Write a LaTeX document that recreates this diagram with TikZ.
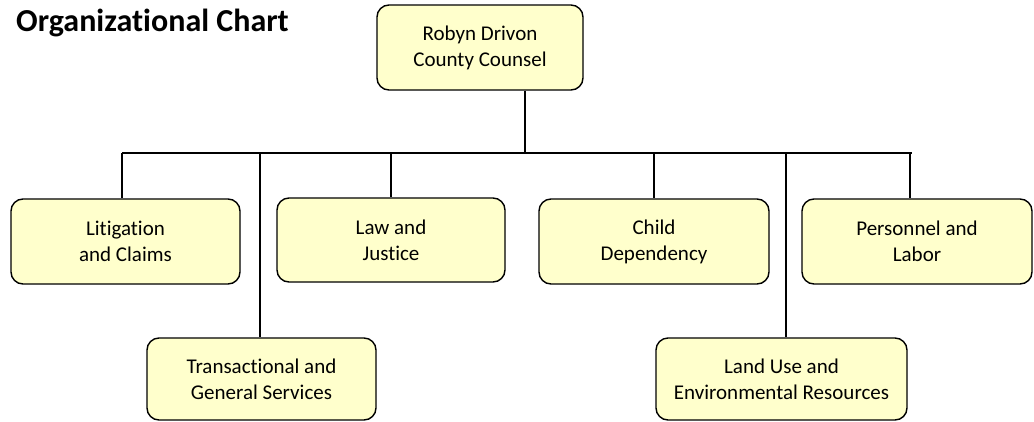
\documentclass[tikz,border=0pt]{standalone}
\usepackage{fontspec}
\setmainfont{Carlito}[Ligatures=NoCommon]
\definecolor{boxfill}{HTML}{FFFFCC}
\begin{document}
\begin{tikzpicture}[x=1pt,y=-1pt]
\useasboundingbox (0,0) rectangle (1034,421);
\tikzset{
  box/.style={draw, line width=1.4pt, rounded corners=12pt, fill=boxfill, align=center,
    font=\fontsize{21}{26}\selectfont, inner sep=0pt},
  conn/.style={line width=1.5pt}
}
\node[font=\fontsize{32}{34}\selectfont\bfseries, anchor=base west, inner sep=0pt] (title) at (16,31) {Organizational Chart};

\node[box, minimum width=206pt, minimum height=85pt] (top) at (480,47.5) {Robyn Drivon\\County Counsel};
\node[box, minimum width=229pt, minimum height=85pt] (lit) at (125.5,241.5) {Litigation\\and Claims};
\node[box, minimum width=228pt, minimum height=84pt] (law) at (391,240) {Law and\\Justice};
\node[box, minimum width=230pt, minimum height=85pt] (child) at (654,241.5) {Child\\Dependency};
\node[box, minimum width=230pt, minimum height=85pt] (pers) at (917,241.5) {Personnel and\\Labor};
\node[box, minimum width=229pt, minimum height=82pt] (trans) at (261.5,379) {Transactional and\\General Services};
\node[box, minimum width=251pt, minimum height=82pt] (land) at (781.5,379) {Land Use and\\Environmental Resources};

\coordinate (bL) at (122,153);
\coordinate (bR) at (912,153);
\coordinate (tr) at (525,153);
\coordinate (dlit) at (122,153);
\coordinate (dtrans) at (260,153);
\coordinate (dlaw) at (391,153);
\coordinate (dchild) at (654,153);
\coordinate (dland) at (786,153);
\coordinate (dpers) at (910,153);

\draw[conn] (bL) -- (bR);
\draw[conn] (tr |- top.south) -- (tr);
\draw[conn] (dlit) -- (dlit |- lit.north);
\draw[conn] (dtrans) -- (dtrans |- trans.north);
\draw[conn] (dlaw) -- (dlaw |- law.north);
\draw[conn] (dchild) -- (dchild |- child.north);
\draw[conn] (dland) -- (dland |- land.north);
\draw[conn] (dpers) -- (dpers |- pers.north);
\end{tikzpicture}
\end{document}
